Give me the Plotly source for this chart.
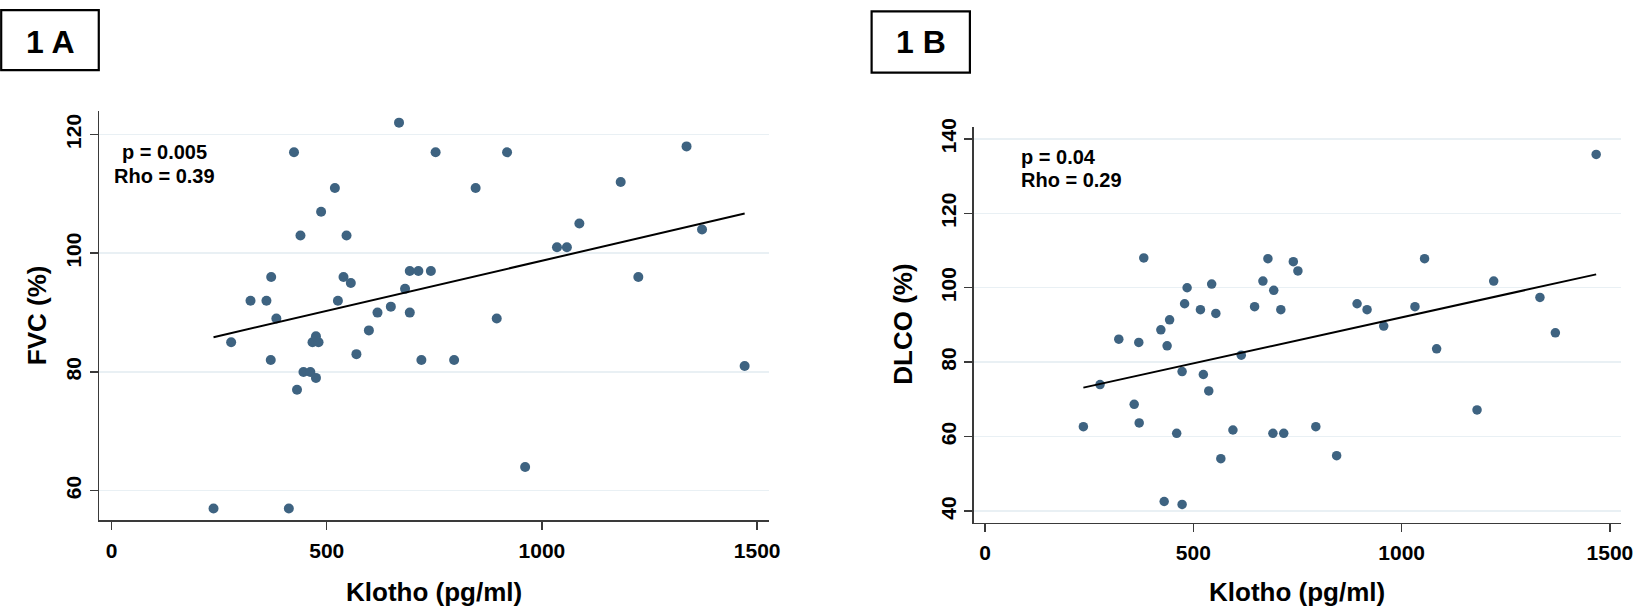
import numpy as np
import plotly.graph_objects as go

# ---------------- data ----------------
klotho_a = [237, 412, 278, 323, 360, 371, 383, 370, 446, 462, 475, 431, 467, 481, 475,
            539, 556, 526, 569, 598, 618, 649, 682, 693, 713, 742, 693, 720, 796, 668,
            424, 519, 487, 439, 546, 753, 919, 846, 1336, 1183, 1087, 1035, 1058, 1372,
            1224, 895, 1471, 961]
fvc = [57, 57, 85, 92, 92, 96, 89, 82, 80, 80, 79, 77, 85, 85, 86,
       96, 95, 92, 83, 87, 90, 91, 94, 97, 97, 97, 90, 82, 82, 122,
       117, 111, 107, 103, 103, 117, 117, 111, 118, 112, 105, 101, 101, 104,
       96, 89, 81, 64]

klotho_b = [236, 276, 321, 358, 369, 370, 381, 422, 430, 437, 443, 460, 473, 473, 479,
            485, 517, 524, 537, 544, 554, 566, 595, 615, 647, 667, 679, 691, 693, 710,
            717, 740, 751, 794, 844, 893, 917, 957, 1032, 1055, 1084, 1181, 1221, 1332,
            1369, 1467]
dlco = [62.7, 74.0, 86.2, 68.7, 85.3, 63.7, 108.0, 88.7, 42.6, 84.4, 91.4, 60.9, 77.5, 41.8, 95.7,
        100.0, 94.1, 76.7, 72.3, 101.0, 93.1, 54.1, 61.8, 81.9, 94.9, 101.8, 107.8, 60.9, 99.3, 94.1,
        60.9, 107.0, 104.5, 62.7, 54.9, 95.7, 94.1, 89.7, 94.9, 107.8, 83.6, 67.2, 101.8, 97.4,
        87.9, 135.8]

x_ticks = [0, 500, 1000, 1500]
y_ticks_a = [60, 80, 100, 120]
y_ticks_b = [40, 60, 80, 100, 120, 140]
stats_a = ["p = 0.005", "Rho = 0.39"]
stats_b = ["p = 0.04", "Rho = 0.29"]
panel_labels = ["1 A", "1 B"]
x_title = "Klotho (pg/ml)"
y_title_a = "FVC (%)"
y_title_b = "DLCO (%)"

# ---------------- styling ----------------
W, H = 1650, 611
FONT = "Liberation Sans, Arial, sans-serif"
DOT = "#3E6381"
GRID = "#E9F0F4"
AXIS = "#3a3a3a"


def px(x):
    return x / W


def py(y):
    return 1 - y / H


def fit_line(xs, ys):
    k, b = np.polyfit(xs, ys, 1)
    xx = np.array([min(xs), max(xs)], dtype=float)
    return xx, k * xx + b


fig = go.Figure()

fa_x, fa_y = fit_line(klotho_a, fvc)
fb_x, fb_y = fit_line(klotho_b, dlco)

fig.add_trace(go.Scatter(x=klotho_a, y=fvc, mode="markers",
                         marker=dict(size=10, color=DOT), xaxis="x", yaxis="y",
                         showlegend=False))
fig.add_trace(go.Scatter(x=fa_x, y=fa_y, mode="lines",
                         line=dict(color="black", width=2), xaxis="x", yaxis="y",
                         showlegend=False))
fig.add_trace(go.Scatter(x=klotho_b, y=dlco, mode="markers",
                         marker=dict(size=9.5, color=DOT), xaxis="x2", yaxis="y2",
                         showlegend=False))
fig.add_trace(go.Scatter(x=fb_x, y=fb_y, mode="lines",
                         line=dict(color="black", width=2), xaxis="x2", yaxis="y2",
                         showlegend=False))

tickfont = dict(family=FONT, size=21, color="black", weight="bold")

common_x = dict(tickvals=x_ticks, ticks="outside", ticklen=8, tickwidth=1.5,
                tickcolor=AXIS, showline=True, linecolor=AXIS, linewidth=1.5,
                showgrid=False, zeroline=False, tickfont=tickfont, fixedrange=True,
                ticklabelstandoff=3)
common_y = dict(ticks="outside", ticklen=8, tickwidth=1.5, tickcolor=AXIS,
                showline=True, linecolor=AXIS, linewidth=1.5, showgrid=True,
                gridcolor=GRID, gridwidth=1.5, zeroline=False, tickfont=tickfont,
                tickangle=-90, fixedrange=True)

fig.update_layout(
    width=W, height=H, autosize=False,
    margin=dict(l=0, r=0, t=0, b=0),
    paper_bgcolor="white", plot_bgcolor="white",
    hovermode=False,
    xaxis=dict(domain=[px(100), px(775)], range=[-28.4, 1528.4], anchor="y", **common_x),
    yaxis=dict(domain=[py(519), py(103.3)], range=[55, 124], tickvals=y_ticks_a,
               anchor="x", **common_y),
    xaxis2=dict(domain=[px(980.7), px(1633.3)], range=[-27.6, 1527.6], anchor="y2", **common_x),
    yaxis2=dict(domain=[py(521.3), py(120)], range=[36.93, 143.1], tickvals=y_ticks_b,
                anchor="x2", **common_y),
)

bold = lambda s: dict(family=FONT, size=s, color="black", weight="bold")
ann = []
# axis titles
ann.append(dict(text=x_title, x=px(437.5), y=py(592), xref="paper", yref="paper",
                showarrow=False, font=bold(26), xanchor="center", yanchor="middle"))
ann.append(dict(text=x_title, x=px(1307), y=py(592), xref="paper", yref="paper",
                showarrow=False, font=bold(26), xanchor="center", yanchor="middle"))
ann.append(dict(text=y_title_a, x=px(38), y=py(311), xref="paper", yref="paper",
                showarrow=False, font=bold(26), textangle=-90,
                xanchor="center", yanchor="middle"))
ann.append(dict(text=y_title_b, x=px(910), y=py(320), xref="paper", yref="paper",
                showarrow=False, font=bold(26), textangle=-90,
                xanchor="center", yanchor="middle"))
# statistics text
for t, yy in zip(stats_a, [145, 169]):
    ann.append(dict(text=t, x=px(165.8), y=py(yy), xref="paper", yref="paper",
                    showarrow=False, font=bold(20), xanchor="center", yanchor="middle"))
for t, yy in zip(stats_b, [150, 174]):
    ann.append(dict(text=t, x=px(1026), y=py(yy), xref="paper", yref="paper",
                    showarrow=False, font=bold(20), xanchor="left", yanchor="middle"))
# panel labels
ann.append(dict(text=panel_labels[0], x=px(51), y=py(33), xref="paper", yref="paper",
                showarrow=False, font=bold(32), xanchor="center", yanchor="middle"))
ann.append(dict(text=panel_labels[1], x=px(927.7), y=py(34), xref="paper", yref="paper",
                showarrow=False, font=bold(32), xanchor="center", yanchor="middle"))
fig.update_layout(annotations=ann)

fig.update_layout(shapes=[
    dict(type="rect", xref="paper", yref="paper", x0=px(1.2), x1=px(99.5), y0=py(62), y1=py(1.2),
         line=dict(color="black", width=2.2)),
    dict(type="rect", xref="paper", yref="paper", x0=px(878), x1=px(977), y0=py(64.5), y1=py(2.5),
         line=dict(color="black", width=2.2)),
])

fig.write_html(
    "out.html",
    config={"displayModeBar": False, "staticPlot": True},
    post_script="document.body.style.margin='0';document.body.style.overflow='hidden';",
)
